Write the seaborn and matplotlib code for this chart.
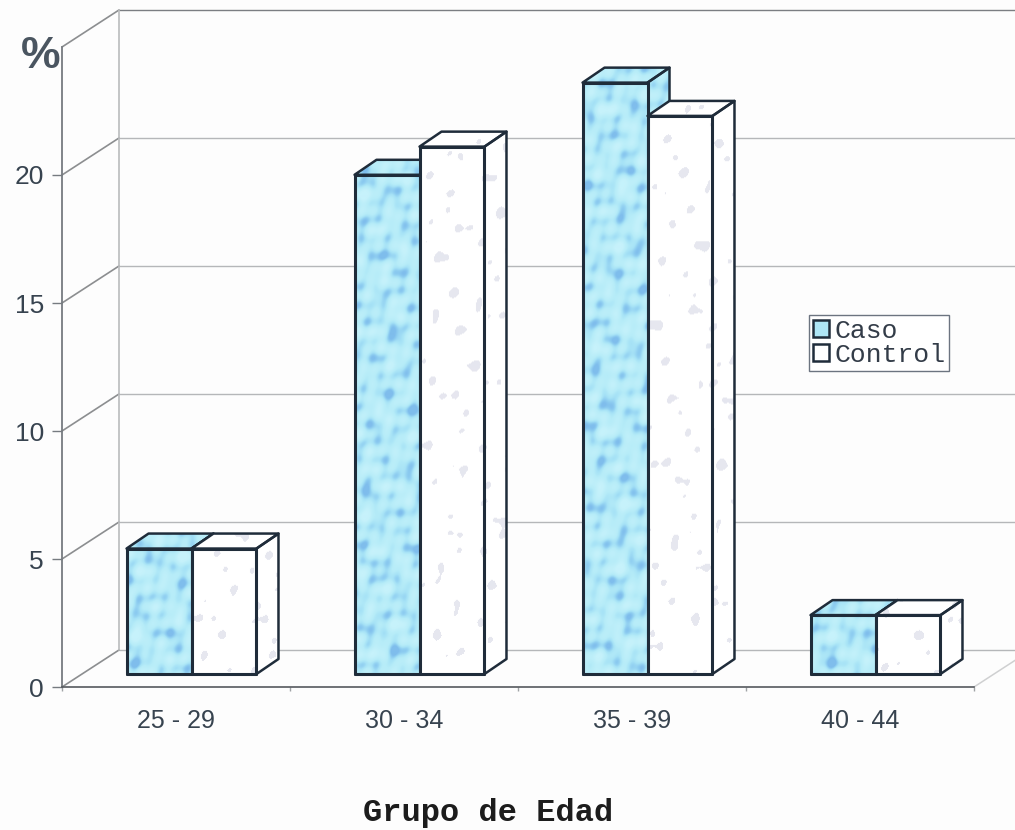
import numpy as np
import pandas as pd
import matplotlib
matplotlib.use('Agg')
import matplotlib.pyplot as plt
from matplotlib.colors import LinearSegmentedColormap, to_rgba
from matplotlib.patches import Polygon
import seaborn as sns

groups = ['25 - 29', '30 - 34', '35 - 39', '40 - 44']
caso = [4.9, 19.5, 23.1, 2.3]
control = [4.9, 20.6, 21.8, 2.3]
y_ticks = [0, 5, 10, 15, 20]

# pseudo 3D: one category = 228 px, one y unit = 25.6 px
SHIFT_X, SHIFT_Y = 15.5 / 228, 13 / 25.6
DEPTH_X, DEPTH_Y = 22 / 228, 15 / 25.6
BACK_X, BACK_Y = 57 / 228, 37 / 25.6

DARK = '#1f2c3a'
TEXT = '#37434f'
GRID = '#b5b7b9'

sns.set_style('white')
plt.rcParams['font.family'] = ['Liberation Sans', 'DejaVu Sans']

df = pd.DataFrame({
    'grupo': groups * 2,
    'serie': ['Caso'] * 4 + ['Control'] * 4,
    'valor': caso + control,
})

fig = plt.figure(figsize=(10.15, 8.3), dpi=100, facecolor='#fdfdfd')
ax = fig.add_axes([62 / 1015, (830 - 687) / 830, 912 / 1015, 640 / 830])
ax.set_facecolor('none')

sns.barplot(data=df, x='grupo', y='valor', hue='serie', ax=ax, width=0.57, gap=0,
            palette=['#aee6f6', '#ffffff'], edgecolor=DARK, linewidth=1.8, saturation=1)

# mottled fills for the bars: plane waves in many directions give round blobs
yy, xx = np.mgrid[0:640, 0:912]
noise = np.zeros(xx.shape)
for angle, wave, phase in [(0.3, 23, 0.0), (1.1, 31, 1.3), (1.9, 19, 2.1), (2.6, 27, 0.7),
                           (0.7, 41, 3.1), (1.5, 17, 4.2), (2.2, 37, 5.3), (2.9, 13, 1.9)]:
    noise += np.sin(2 * np.pi * (xx * np.cos(angle) + yy * np.sin(angle)) / wave + phase)
noise = np.clip((noise + 4.5) / 9, 0, 1)
blue_cmap = LinearSegmentedColormap.from_list(
    'moteado', [(0, '#c6f2fb'), (0.5, '#b6ecf8'), (0.7, '#a6e2f6'), (0.88, '#8ccbf0'), (1, '#7fbdec')])
blue_tex = blue_cmap(noise)
white_tex = np.ones(noise.shape + (4,))
white_tex[noise > 0.86] = to_rgba('#e6e7ef')


def draw_face(points, tex, z, lw=1.8):
    face = Polygon(points, closed=True, fc='none', ec=DARK, lw=lw, zorder=z + 0.2,
                   joinstyle='round', clip_on=False)
    ax.add_patch(face)
    im = ax.imshow(tex, extent=(-0.5, 3.5, 0, 25), aspect='auto', origin='lower',
                   interpolation='bilinear', zorder=z)
    im.set_clip_path(face)


for container, tex, offset in zip(ax.containers, [blue_tex, white_tex], [0, 3]):
    for i, bar in enumerate(container):
        bar.set_x(bar.get_x() + SHIFT_X)
        bar.set_y(SHIFT_Y)
        bar.set_clip_on(False)
        x0, w, y0, h = bar.get_x(), bar.get_width(), bar.get_y(), bar.get_height()
        x1, y1 = x0 + w, y0 + h
        # Control sits on top of Caso inside a group
        base = 3 + i * 6 + offset
        draw_face([(x0, y1), (x1, y1), (x1 + DEPTH_X, y1 + DEPTH_Y), (x0 + DEPTH_X, y1 + DEPTH_Y)], tex, base)
        draw_face([(x1, y0), (x1 + DEPTH_X, y0 + DEPTH_Y), (x1 + DEPTH_X, y1 + DEPTH_Y), (x1, y1)], tex, base)
        draw_face([(x0, y0), (x1, y0), (x1, y1), (x0, y1)], tex, base + 1, lw=2.2)
        bar.set_zorder(base + 0.9)

ax.set_xlim(-0.5, 3.5)
ax.set_ylim(0, 25)

# back wall, side wall and floor
for v in range(0, 30, 5):
    color = '#7b7e82' if v == 25 else GRID
    ax.plot([-0.5 + BACK_X, 3.5 + BACK_X], [v + BACK_Y] * 2, color=color, lw=1, zorder=1, clip_on=False)
    ax.plot([-0.5, -0.5 + BACK_X], [v, v + BACK_Y], color='#8c8e90', lw=1.2, zorder=1, clip_on=False)
ax.plot([-0.5 + BACK_X] * 2, [BACK_Y, 25 + BACK_Y], color='#b9bbbd', lw=1.2, zorder=1, clip_on=False)
ax.plot([3.5, 3.5 + BACK_X], [0, BACK_Y], color='#cfd0d1', lw=1.1, zorder=1, clip_on=False)

sns.despine(ax=ax, top=True, right=True)
ax.spines['left'].set_color('#767b80')
ax.spines['left'].set_linewidth(1.3)
ax.spines['bottom'].set_color('#55595e')
ax.spines['bottom'].set_linewidth(1.2)

ax.set_yticks(y_ticks)
ax.tick_params(axis='y', left=True, length=7, width=1, color='#767b80', pad=6,
               labelsize=19, labelcolor=TEXT)
ax.set_xticks(range(4))
ax.set_xticklabels(groups)
ax.set_xticks([-0.5, 0.5, 1.5, 2.5, 3.5], minor=True)
ax.tick_params(axis='x', which='major', bottom=False, labelsize=18, labelcolor=TEXT, pad=12)
ax.tick_params(axis='x', which='minor', bottom=True, length=3, width=1, color='#a0a3a6')
ax.set_ylabel('')

fig.text(41 / 1015, 1 - 56 / 830, '%', fontsize=32, fontweight='bold', color='#4a5560',
         ha='center', va='center')

ax.set_xlabel('Grupo de Edad', fontsize=23, fontweight='bold', family='Liberation Mono',
              color='#1c1c1c', va='center')
ax.xaxis.set_label_coords((488 - 62) / 912, -(813 - 687) / 640)

handles, labels = ax.get_legend_handles_labels()
leg = ax.legend(handles, labels, loc='upper left', bbox_to_anchor=((809 - 62) / 912, (687 - 315) / 640),
                prop={'family': 'Liberation Mono', 'size': 19},
                frameon=True, fancybox=False, framealpha=1, edgecolor='#6c7480',
                borderpad=0.15, labelspacing=0.0, handlelength=0.6, handleheight=0.6,
                handletextpad=0.2, borderaxespad=0)
leg.set_zorder(50)
for t in leg.get_texts():
    t.set_color('#333c48')

fig.savefig('out.png', dpi=100, facecolor=fig.get_facecolor())
plt.close(fig)
